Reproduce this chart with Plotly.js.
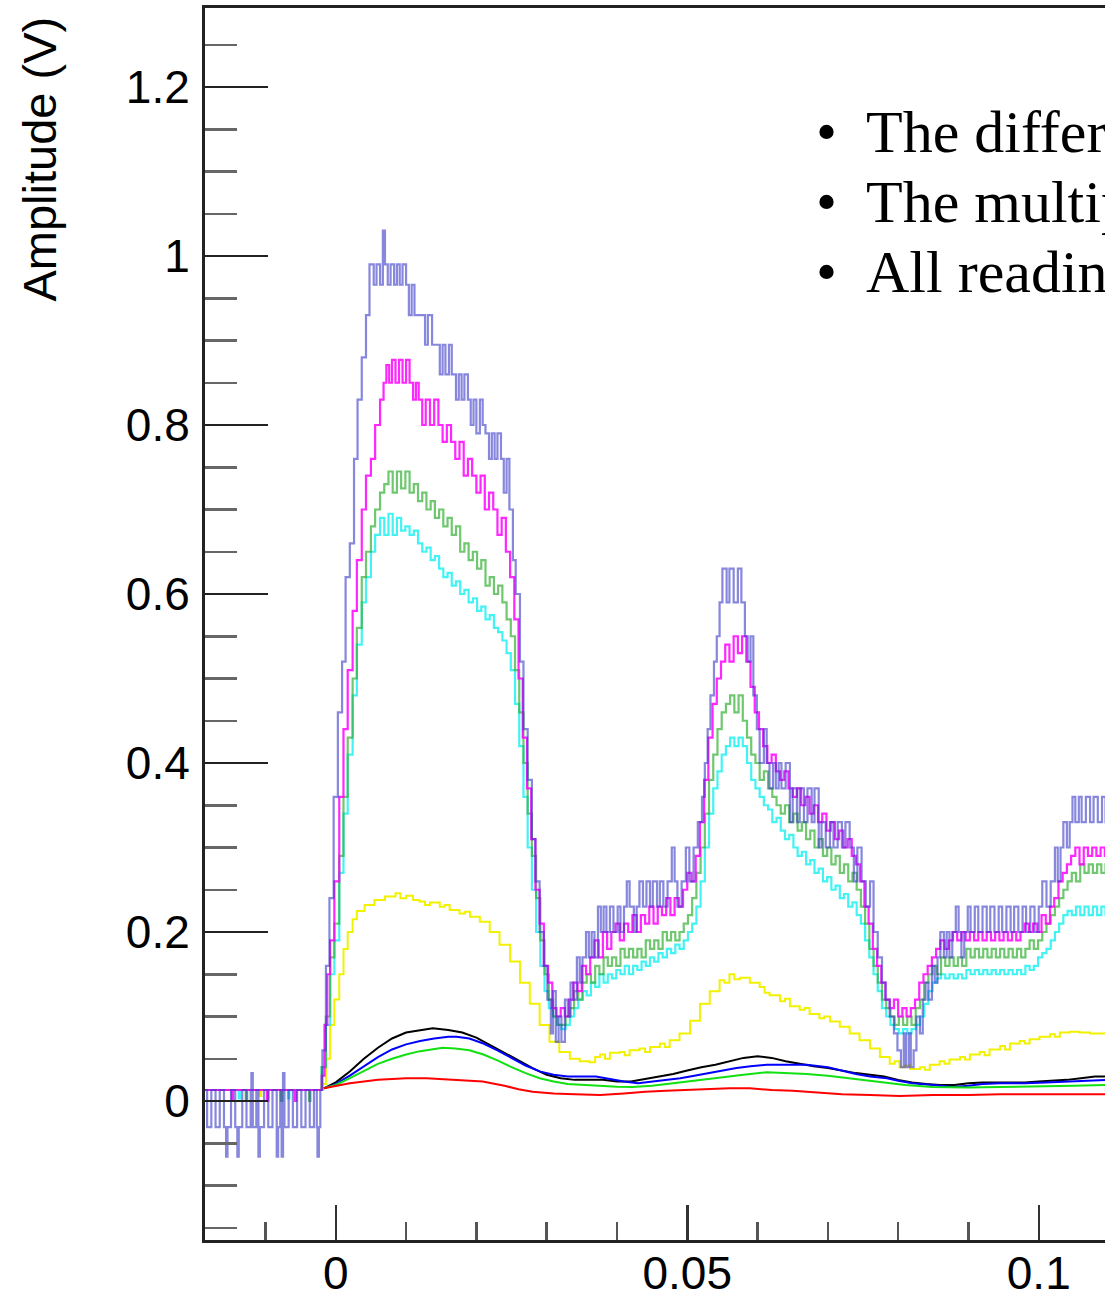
<!DOCTYPE html>
<html><head><meta charset="utf-8">
<script src="https://cdn.plot.ly/plotly-3.0.1.min.js"></script>
<style>html,body{margin:0;padding:0;overflow:hidden;background:#fff;width:1105px;height:1298px}#chart{width:1300px;height:1298px}</style>
</head><body><div id="chart"></div><script>
const xTickVals = [0, 0.05, 0.1];
const xTickText = ["0", "0.05", "0.1"];
const yTickVals = [0, 0.2, 0.4, 0.6, 0.8, 1, 1.2];
const yTickText = ["0", "0.2", "0.4", "0.6", "0.8", "1", "1.2"];
const yTitle = "Amplitude (V)";
const notes = ["The difference", "The multiplier", "All readings"];

// [time (s), amplitude (V)]
const violet = [[-0.0186,0.013],[-0.0183,-0.031],[-0.0177,0.013],[-0.0171,-0.031],[-0.0165,0.013],[-0.0159,-0.031],[-0.0156,-0.066],[-0.0154,-0.031],[-0.0149,0.013],[-0.0143,-0.031],[-0.0140,-0.066],[-0.0138,-0.031],[-0.0133,0.013],[-0.0127,-0.031],[-0.0121,0.013],[-0.0120,0.033],[-0.0118,-0.031],[-0.0113,0.013],[-0.0110,-0.066],[-0.0108,-0.031],[-0.0102,0.013],[-0.0096,-0.031],[-0.0090,0.013],[-0.0084,-0.066],[-0.0082,-0.031],[-0.0079,0.013],[-0.0077,-0.066],[-0.0075,0.033],[-0.0073,-0.031],[-0.0067,0.013],[-0.0061,-0.031],[-0.0055,0.013],[-0.0049,-0.031],[-0.0043,0.013],[-0.0037,-0.031],[-0.0031,0.013],[-0.0027,-0.031],[-0.0026,-0.066],[-0.0024,-0.031],[-0.0022,0.013],
[-0.0019,0.06],[-0.0014,0.16],[-0.0009,0.24],[-0.0003,0.36],[0.0003,0.46],[0.0009,0.52],[0.0014,0.62],[0.0020,0.66],[0.0026,0.76],[0.0031,0.83],[0.0037,0.88],[0.0043,0.93],[0.0048,0.99],[0.0054,0.966],[0.0058,0.99],[0.0063,0.966],[0.0067,1.03],[0.0070,0.99],[0.0074,0.966],[0.0078,0.99],[0.0083,0.966],[0.0087,0.99],[0.0091,0.966],[0.0095,0.99],[0.0100,0.966],[0.0104,0.93],[0.0108,0.966],[0.0112,0.93],[0.0127,0.895],[0.0131,0.93],[0.0137,0.895],[0.0148,0.86],[0.0152,0.895],[0.0156,0.86],[0.0161,0.895],[0.0165,0.86],[0.0171,0.83],[0.0175,0.86],[0.0179,0.83],[0.0183,0.86],[0.0188,0.83],[0.0192,0.80],[0.0196,0.83],[0.0200,0.79],[0.0205,0.83],[0.0209,0.80],[0.0213,0.79],[0.0218,0.76],[0.0222,0.79],[0.0226,0.76],[0.0230,0.79],[0.0235,0.76],[0.0239,0.72],[0.0243,0.76],[0.0247,0.70],[0.0252,0.64],[0.0256,0.60],[0.0262,0.52],[0.0267,0.44],[0.0273,0.38],[0.0279,0.31],[0.0284,0.26],[0.0290,0.20],[0.0296,0.16],[0.0301,0.12],[0.0306,0.08],[0.0309,0.13],[0.0313,0.07],[0.0317,0.10],[0.0321,0.07],[0.0326,0.12],[0.0330,0.10],[0.0334,0.14],[0.0338,0.12],[0.0343,0.17],[0.0347,0.14],[0.0351,0.17],[0.0356,0.20],[0.0360,0.17],[0.0364,0.20],[0.0368,0.17],[0.0373,0.23],[0.0377,0.20],[0.0381,0.23],[0.0385,0.20],[0.0390,0.23],[0.0395,0.20],[0.0401,0.23],[0.0405,0.20],[0.0410,0.23],[0.0414,0.26],[0.0418,0.23],[0.0424,0.20],[0.0428,0.23],[0.0432,0.26],[0.0437,0.23],[0.0442,0.26],[0.0447,0.23],[0.0451,0.26],[0.0457,0.23],[0.0461,0.26],[0.0466,0.23],[0.0472,0.26],[0.0478,0.30],[0.0482,0.26],[0.0486,0.23],[0.0492,0.26],[0.0498,0.30],[0.0503,0.26],[0.0509,0.30],[0.0515,0.33],[0.0521,0.36],[0.0525,0.40],[0.0529,0.44],[0.0533,0.48],[0.0538,0.52],[0.0542,0.55],[0.0546,0.59],[0.0550,0.63],[0.0556,0.59],[0.0560,0.63],[0.0566,0.59],[0.0572,0.63],[0.0577,0.59],[0.0582,0.55],[0.0586,0.52],[0.0590,0.55],[0.0594,0.48],[0.0599,0.44],[0.0603,0.40],[0.0609,0.44],[0.0613,0.40],[0.0617,0.37],[0.0622,0.40],[0.0626,0.37],[0.0630,0.40],[0.0634,0.37],[0.0640,0.40],[0.0646,0.33],[0.0650,0.37],[0.0656,0.33],[0.0660,0.37],[0.0666,0.33],[0.0671,0.37],[0.0677,0.33],[0.0681,0.37],[0.0687,0.30],[0.0691,0.33],[0.0697,0.30],[0.0703,0.33],[0.0708,0.30],[0.0714,0.33],[0.0720,0.30],[0.0725,0.33],[0.0731,0.30],[0.0737,0.26],[0.0742,0.30],[0.0748,0.26],[0.0754,0.23],[0.0760,0.26],[0.0765,0.20],[0.0771,0.17],[0.0777,0.14],[0.0782,0.12],[0.0788,0.10],[0.0794,0.08],[0.0799,0.06],[0.0804,0.04],[0.0808,0.08],[0.0811,0.04],[0.0815,0.08],[0.0818,0.04],[0.0822,0.06],[0.0826,0.10],[0.0831,0.08],[0.0835,0.12],[0.0839,0.14],[0.0843,0.12],[0.0848,0.16],[0.0852,0.14],[0.0856,0.17],[0.0860,0.20],[0.0865,0.17],[0.0869,0.20],[0.0873,0.17],[0.0877,0.20],[0.0882,0.23],[0.0886,0.20],[0.0890,0.17],[0.0894,0.20],[0.0899,0.23],[0.0903,0.20],[0.0909,0.23],[0.0914,0.20],[0.0920,0.23],[0.0926,0.20],[0.0931,0.23],[0.0937,0.20],[0.0943,0.23],[0.0948,0.20],[0.0954,0.23],[0.0960,0.20],[0.0965,0.23],[0.0971,0.20],[0.0977,0.23],[0.0982,0.20],[0.0988,0.23],[0.0994,0.20],[0.1000,0.23],[0.1005,0.26],[0.1011,0.23],[0.1017,0.26],[0.1023,0.30],[0.1027,0.26],[0.1031,0.30],[0.1035,0.33],[0.1040,0.30],[0.1044,0.33],[0.1048,0.36],[0.1052,0.33],[0.1057,0.36],[0.1061,0.33],[0.1067,0.36],[0.1073,0.33],[0.1078,0.36],[0.1084,0.33],[0.1090,0.36],[0.1095,0.33],[0.1101,0.33]];

const magenta = [[-0.0186,0.013],[-0.0150,0.013],[-0.0148,0.0],[-0.0146,0.013],[-0.0100,0.013],[-0.0098,0.0],[-0.0096,0.013],[-0.0060,0.013],[-0.0058,0.0],[-0.0056,0.013],[-0.0024,0.013],
[-0.0020,0.03],[-0.0016,0.09],[-0.0012,0.15],[-0.0008,0.19],[-0.0002,0.26],[0.0005,0.36],[0.0011,0.44],[0.0017,0.51],[0.0024,0.58],[0.0030,0.64],[0.0037,0.70],[0.0043,0.74],[0.0050,0.76],[0.0056,0.80],[0.0063,0.83],[0.0068,0.85],[0.0072,0.871],[0.0076,0.85],[0.0080,0.877],[0.0085,0.85],[0.0090,0.877],[0.0095,0.85],[0.0100,0.877],[0.0105,0.85],[0.0110,0.83],[0.0114,0.85],[0.0118,0.83],[0.0123,0.80],[0.0128,0.83],[0.0134,0.80],[0.0140,0.83],[0.0146,0.80],[0.0152,0.78],[0.0158,0.80],[0.0164,0.78],[0.0170,0.76],[0.0176,0.78],[0.0182,0.74],[0.0188,0.76],[0.0194,0.74],[0.0200,0.72],[0.0206,0.74],[0.0212,0.70],[0.0218,0.72],[0.0224,0.70],[0.0230,0.67],[0.0236,0.69],[0.0242,0.65],[0.0248,0.62],[0.0254,0.57],[0.0260,0.50],[0.0266,0.43],[0.0272,0.37],[0.0278,0.31],[0.0284,0.25],[0.0290,0.21],[0.0296,0.16],[0.0302,0.14],[0.0308,0.11],[0.0314,0.10],[0.0320,0.11],[0.0326,0.10],[0.0332,0.12],[0.0338,0.14],[0.0344,0.13],[0.0350,0.16],[0.0356,0.15],[0.0362,0.17],[0.0368,0.19],[0.0374,0.17],[0.0380,0.20],[0.0386,0.18],[0.0392,0.20],[0.0398,0.21],[0.0404,0.19],[0.0410,0.21],[0.0416,0.20],[0.0422,0.22],[0.0428,0.20],[0.0434,0.22],[0.0440,0.21],[0.0446,0.23],[0.0452,0.21],[0.0458,0.23],[0.0464,0.22],[0.0470,0.24],[0.0476,0.22],[0.0482,0.24],[0.0488,0.23],[0.0494,0.25],[0.0500,0.27],[0.0506,0.26],[0.0512,0.29],[0.0518,0.33],[0.0524,0.38],[0.0530,0.43],[0.0536,0.47],[0.0542,0.50],[0.0548,0.52],[0.0554,0.54],[0.0560,0.52],[0.0566,0.55],[0.0572,0.53],[0.0578,0.55],[0.0584,0.52],[0.0590,0.49],[0.0596,0.46],[0.0602,0.44],[0.0608,0.42],[0.0614,0.40],[0.0620,0.41],[0.0626,0.39],[0.0632,0.38],[0.0638,0.39],[0.0644,0.37],[0.0650,0.36],[0.0656,0.37],[0.0662,0.35],[0.0668,0.36],[0.0674,0.34],[0.0680,0.35],[0.0686,0.33],[0.0692,0.34],[0.0698,0.32],[0.0704,0.33],[0.0710,0.31],[0.0716,0.32],[0.0722,0.30],[0.0728,0.31],[0.0734,0.29],[0.0740,0.28],[0.0746,0.26],[0.0752,0.23],[0.0758,0.21],[0.0764,0.18],[0.0770,0.16],[0.0776,0.14],[0.0782,0.12],[0.0788,0.11],[0.0794,0.12],[0.0800,0.10],[0.0806,0.11],[0.0812,0.10],[0.0818,0.11],[0.0824,0.12],[0.0830,0.14],[0.0836,0.15],[0.0842,0.16],[0.0848,0.17],[0.0854,0.18],[0.0860,0.19],[0.0866,0.18],[0.0872,0.19],[0.0878,0.20],[0.0884,0.19],[0.0890,0.20],[0.0896,0.19],[0.0902,0.20],[0.0908,0.19],[0.0914,0.20],[0.0920,0.19],[0.0926,0.20],[0.0932,0.19],[0.0938,0.20],[0.0944,0.19],[0.0950,0.20],[0.0956,0.19],[0.0962,0.20],[0.0968,0.19],[0.0974,0.20],[0.0980,0.21],[0.0986,0.20],[0.0992,0.21],[0.0998,0.20],[0.1004,0.22],[0.1010,0.21],[0.1016,0.23],[0.1022,0.24],[0.1028,0.26],[0.1034,0.27],[0.1040,0.28],[0.1046,0.29],[0.1052,0.30],[0.1058,0.28],[0.1064,0.30],[0.1070,0.29],[0.1076,0.30],[0.1082,0.29],[0.1088,0.30],[0.1094,0.29],[0.1101,0.29]];

const greenDark = [[-0.0186,0.013],[-0.0130,0.013],[-0.0128,0.0],[-0.0126,0.013],[-0.0080,0.013],[-0.0078,0.0],[-0.0076,0.013],[-0.0040,0.013],[-0.0038,0.0],[-0.0036,0.013],[-0.0024,0.013],
[-0.0020,0.04],[-0.0014,0.10],[-0.0008,0.17],[-0.0002,0.21],[0.0005,0.29],[0.0011,0.36],[0.0017,0.43],[0.0024,0.50],[0.0030,0.56],[0.0037,0.62],[0.0043,0.65],[0.0050,0.68],[0.0056,0.70],[0.0063,0.72],[0.0069,0.73],[0.0075,0.745],[0.0081,0.72],[0.0087,0.745],[0.0093,0.725],[0.0099,0.745],[0.0105,0.72],[0.0111,0.73],[0.0117,0.71],[0.0123,0.72],[0.0129,0.70],[0.0135,0.71],[0.0141,0.69],[0.0147,0.70],[0.0153,0.68],[0.0159,0.69],[0.0165,0.67],[0.0171,0.68],[0.0177,0.65],[0.0183,0.66],[0.0189,0.64],[0.0195,0.65],[0.0201,0.63],[0.0207,0.64],[0.0213,0.61],[0.0219,0.62],[0.0225,0.60],[0.0231,0.61],[0.0237,0.59],[0.0243,0.57],[0.0249,0.55],[0.0255,0.51],[0.0261,0.46],[0.0267,0.40],[0.0273,0.34],[0.0279,0.29],[0.0285,0.24],[0.0291,0.19],[0.0297,0.15],[0.0303,0.12],[0.0309,0.10],[0.0315,0.09],[0.0321,0.09],[0.0327,0.10],[0.0333,0.11],[0.0339,0.13],[0.0345,0.12],[0.0351,0.14],[0.0357,0.15],[0.0363,0.14],[0.0369,0.16],[0.0375,0.15],[0.0381,0.17],[0.0387,0.16],[0.0393,0.17],[0.0399,0.16],[0.0405,0.18],[0.0411,0.17],[0.0417,0.18],[0.0423,0.17],[0.0429,0.18],[0.0435,0.17],[0.0441,0.19],[0.0447,0.18],[0.0453,0.19],[0.0459,0.18],[0.0465,0.20],[0.0471,0.19],[0.0477,0.20],[0.0483,0.19],[0.0489,0.20],[0.0495,0.21],[0.0501,0.22],[0.0507,0.24],[0.0513,0.27],[0.0519,0.30],[0.0525,0.34],[0.0531,0.38],[0.0537,0.41],[0.0543,0.44],[0.0549,0.46],[0.0555,0.47],[0.0561,0.48],[0.0567,0.46],[0.0573,0.48],[0.0579,0.45],[0.0585,0.43],[0.0591,0.41],[0.0597,0.40],[0.0603,0.38],[0.0609,0.39],[0.0615,0.37],[0.0621,0.36],[0.0627,0.35],[0.0633,0.34],[0.0639,0.35],[0.0645,0.33],[0.0651,0.34],[0.0657,0.32],[0.0663,0.33],[0.0669,0.31],[0.0675,0.32],[0.0681,0.30],[0.0687,0.31],[0.0693,0.29],[0.0699,0.30],[0.0705,0.28],[0.0711,0.29],[0.0717,0.27],[0.0723,0.28],[0.0729,0.26],[0.0735,0.27],[0.0741,0.25],[0.0747,0.23],[0.0753,0.21],[0.0759,0.18],[0.0765,0.16],[0.0771,0.14],[0.0777,0.12],[0.0783,0.11],[0.0789,0.10],[0.0795,0.09],[0.0801,0.10],[0.0807,0.09],[0.0813,0.10],[0.0819,0.09],[0.0825,0.11],[0.0831,0.12],[0.0837,0.14],[0.0843,0.15],[0.0849,0.16],[0.0855,0.15],[0.0861,0.17],[0.0867,0.16],[0.0873,0.17],[0.0879,0.16],[0.0885,0.17],[0.0891,0.16],[0.0897,0.18],[0.0903,0.17],[0.0909,0.18],[0.0915,0.17],[0.0921,0.18],[0.0927,0.17],[0.0933,0.18],[0.0939,0.17],[0.0945,0.18],[0.0951,0.17],[0.0957,0.18],[0.0963,0.17],[0.0969,0.18],[0.0975,0.17],[0.0981,0.18],[0.0987,0.19],[0.0993,0.18],[0.0999,0.19],[0.1005,0.20],[0.1011,0.21],[0.1017,0.22],[0.1023,0.23],[0.1029,0.24],[0.1035,0.25],[0.1041,0.26],[0.1047,0.27],[0.1053,0.26],[0.1059,0.28],[0.1065,0.27],[0.1071,0.28],[0.1077,0.27],[0.1083,0.28],[0.1089,0.27],[0.1095,0.28],[0.1101,0.27]];

const cyan = [[-0.0186,0.013],[-0.0140,0.013],[-0.0138,0.003],[-0.0136,0.013],[-0.0070,0.013],[-0.0068,0.003],[-0.0066,0.013],[-0.0024,0.013],
[-0.0020,0.04],[-0.0014,0.09],[-0.0008,0.15],[-0.0002,0.19],[0.0005,0.27],[0.0011,0.34],[0.0017,0.41],[0.0024,0.48],[0.0030,0.54],[0.0037,0.59],[0.0043,0.62],[0.0050,0.65],[0.0056,0.67],[0.0063,0.69],[0.0069,0.67],[0.0075,0.695],[0.0081,0.67],[0.0087,0.69],[0.0093,0.675],[0.0099,0.68],[0.0105,0.67],[0.0111,0.675],[0.0117,0.66],[0.0123,0.65],[0.0129,0.655],[0.0135,0.64],[0.0141,0.645],[0.0147,0.63],[0.0153,0.62],[0.0159,0.625],[0.0165,0.61],[0.0171,0.615],[0.0177,0.60],[0.0183,0.605],[0.0189,0.59],[0.0195,0.595],[0.0201,0.58],[0.0207,0.585],[0.0213,0.57],[0.0219,0.575],[0.0225,0.56],[0.0231,0.555],[0.0237,0.545],[0.0243,0.53],[0.0249,0.51],[0.0255,0.47],[0.0261,0.42],[0.0267,0.36],[0.0273,0.30],[0.0279,0.25],[0.0285,0.20],[0.0291,0.16],[0.0297,0.13],[0.0303,0.11],[0.0309,0.10],[0.0315,0.09],[0.0321,0.085],[0.0327,0.09],[0.0333,0.10],[0.0339,0.11],[0.0345,0.12],[0.0351,0.13],[0.0357,0.125],[0.0363,0.14],[0.0369,0.135],[0.0375,0.15],[0.0381,0.14],[0.0387,0.15],[0.0393,0.145],[0.0399,0.155],[0.0405,0.15],[0.0411,0.16],[0.0417,0.15],[0.0423,0.16],[0.0429,0.155],[0.0435,0.165],[0.0441,0.16],[0.0447,0.17],[0.0453,0.165],[0.0459,0.175],[0.0465,0.17],[0.0471,0.18],[0.0477,0.175],[0.0483,0.185],[0.0489,0.18],[0.0495,0.19],[0.0501,0.20],[0.0507,0.21],[0.0513,0.23],[0.0519,0.26],[0.0525,0.30],[0.0531,0.34],[0.0537,0.37],[0.0543,0.39],[0.0549,0.41],[0.0555,0.42],[0.0561,0.43],[0.0567,0.42],[0.0573,0.43],[0.0579,0.42],[0.0585,0.40],[0.0591,0.38],[0.0597,0.37],[0.0603,0.36],[0.0609,0.35],[0.0615,0.345],[0.0621,0.33],[0.0627,0.335],[0.0633,0.32],[0.0639,0.31],[0.0645,0.315],[0.0651,0.30],[0.0657,0.29],[0.0663,0.295],[0.0669,0.28],[0.0675,0.285],[0.0681,0.27],[0.0687,0.275],[0.0693,0.26],[0.0699,0.265],[0.0705,0.25],[0.0711,0.255],[0.0717,0.24],[0.0723,0.245],[0.0729,0.23],[0.0735,0.235],[0.0741,0.22],[0.0747,0.21],[0.0753,0.19],[0.0759,0.17],[0.0765,0.15],[0.0771,0.13],[0.0777,0.11],[0.0783,0.10],[0.0789,0.09],[0.0795,0.085],[0.0801,0.08],[0.0807,0.085],[0.0813,0.08],[0.0819,0.085],[0.0825,0.09],[0.0831,0.10],[0.0837,0.115],[0.0843,0.13],[0.0849,0.14],[0.0855,0.145],[0.0861,0.15],[0.0867,0.145],[0.0873,0.15],[0.0879,0.145],[0.0885,0.15],[0.0891,0.145],[0.0897,0.155],[0.0903,0.15],[0.0909,0.155],[0.0915,0.15],[0.0921,0.155],[0.0927,0.15],[0.0933,0.155],[0.0939,0.15],[0.0945,0.155],[0.0951,0.15],[0.0957,0.155],[0.0963,0.15],[0.0969,0.155],[0.0975,0.15],[0.0981,0.16],[0.0987,0.155],[0.0993,0.16],[0.0999,0.17],[0.1005,0.175],[0.1011,0.18],[0.1017,0.19],[0.1023,0.20],[0.1029,0.21],[0.1035,0.22],[0.1041,0.225],[0.1047,0.22],[0.1053,0.23],[0.1059,0.22],[0.1065,0.23],[0.1071,0.22],[0.1077,0.23],[0.1083,0.22],[0.1089,0.23],[0.1095,0.22],[0.1101,0.225]];

const yellow = [[-0.0186,0.013],[-0.0110,0.013],[-0.0108,0.006],[-0.0106,0.013],[-0.0024,0.013],
[-0.0020,0.02],[-0.0014,0.05],[-0.0008,0.09],[-0.0002,0.12],[0.0005,0.15],[0.0011,0.18],[0.0017,0.20],[0.0024,0.215],[0.0030,0.225],[0.0041,0.232],[0.0055,0.238],[0.0070,0.242],[0.0085,0.246],[0.0092,0.240],[0.0100,0.243],[0.0110,0.238],[0.0119,0.236],[0.0127,0.232],[0.0134,0.235],[0.0148,0.230],[0.0155,0.232],[0.0162,0.226],[0.0176,0.222],[0.0184,0.224],[0.0191,0.218],[0.0205,0.212],[0.0219,0.200],[0.0233,0.185],[0.0248,0.165],[0.0262,0.140],[0.0276,0.115],[0.0290,0.090],[0.0304,0.070],[0.0318,0.058],[0.0333,0.050],[0.0347,0.047],[0.0361,0.046],[0.0369,0.052],[0.0376,0.055],[0.0383,0.050],[0.0390,0.057],[0.0404,0.058],[0.0411,0.054],[0.0418,0.060],[0.0432,0.062],[0.0440,0.058],[0.0447,0.064],[0.0461,0.068],[0.0468,0.064],[0.0475,0.072],[0.0489,0.080],[0.0504,0.095],[0.0518,0.115],[0.0532,0.130],[0.0546,0.143],[0.0553,0.140],[0.0560,0.150],[0.0567,0.144],[0.0575,0.146],[0.0589,0.140],[0.0603,0.135],[0.0610,0.128],[0.0617,0.125],[0.0632,0.118],[0.0639,0.121],[0.0646,0.112],[0.0660,0.108],[0.0667,0.110],[0.0674,0.103],[0.0688,0.098],[0.0695,0.100],[0.0703,0.094],[0.0717,0.088],[0.0731,0.080],[0.0745,0.072],[0.0760,0.062],[0.0774,0.052],[0.0788,0.044],[0.0795,0.047],[0.0802,0.040],[0.0810,0.042],[0.0817,0.038],[0.0831,0.040],[0.0838,0.037],[0.0845,0.043],[0.0859,0.047],[0.0866,0.044],[0.0873,0.049],[0.0888,0.052],[0.0895,0.049],[0.0902,0.055],[0.0916,0.058],[0.0923,0.054],[0.0930,0.061],[0.0945,0.065],[0.0952,0.061],[0.0959,0.068],[0.0973,0.071],[0.0980,0.068],[0.0987,0.073],[0.1001,0.076],[0.1016,0.079],[0.1023,0.076],[0.1030,0.081],[0.1044,0.082],[0.1058,0.081],[0.1073,0.080],[0.1087,0.080],[0.1101,0.079]];

const black = [[-0.0017,0.015],[0.0000,0.022],[0.0020,0.035],[0.0040,0.050],[0.0060,0.063],[0.0080,0.074],[0.0100,0.081],[0.0120,0.084],[0.0138,0.086],[0.0160,0.084],[0.0180,0.081],[0.0200,0.075],[0.0220,0.066],[0.0240,0.057],[0.0260,0.047],[0.0280,0.039],[0.0300,0.031],[0.0320,0.027],[0.0340,0.025],[0.0360,0.025],[0.0380,0.025],[0.0400,0.023],[0.0420,0.023],[0.0440,0.026],[0.0460,0.029],[0.0480,0.032],[0.0500,0.036],[0.0520,0.040],[0.0540,0.043],[0.0560,0.047],[0.0580,0.051],[0.0600,0.053],[0.0620,0.051],[0.0640,0.047],[0.0660,0.044],[0.0680,0.041],[0.0700,0.039],[0.0720,0.036],[0.0740,0.033],[0.0760,0.031],[0.0780,0.029],[0.0800,0.025],[0.0820,0.022],[0.0840,0.020],[0.0860,0.019],[0.0880,0.019],[0.0900,0.021],[0.0920,0.022],[0.0940,0.022],[0.0960,0.022],[0.0980,0.022],[0.1000,0.023],[0.1020,0.024],[0.1040,0.025],[0.1060,0.027],[0.1080,0.029],[0.1101,0.029]];

const blue = [[-0.0017,0.015],[0.0000,0.020],[0.0020,0.030],[0.0040,0.041],[0.0060,0.052],[0.0080,0.061],[0.0100,0.067],[0.0120,0.071],[0.0140,0.074],[0.0160,0.076],[0.0172,0.076],[0.0190,0.074],[0.0210,0.068],[0.0230,0.060],[0.0250,0.051],[0.0270,0.042],[0.0290,0.035],[0.0310,0.031],[0.0330,0.029],[0.0350,0.029],[0.0370,0.029],[0.0390,0.026],[0.0410,0.023],[0.0430,0.021],[0.0450,0.023],[0.0470,0.025],[0.0490,0.027],[0.0510,0.030],[0.0530,0.033],[0.0550,0.036],[0.0570,0.039],[0.0590,0.041],[0.0613,0.043],[0.0640,0.043],[0.0670,0.043],[0.0700,0.040],[0.0720,0.036],[0.0740,0.032],[0.0760,0.029],[0.0784,0.027],[0.0800,0.024],[0.0820,0.021],[0.0849,0.019],[0.0878,0.0165],[0.0900,0.018],[0.0920,0.020],[0.0945,0.021],[0.0980,0.021],[0.1010,0.022],[0.1040,0.023],[0.1070,0.024],[0.1101,0.025]];

const green = [[-0.0017,0.015],[0.0000,0.019],[0.0020,0.027],[0.0040,0.036],[0.0060,0.044],[0.0080,0.050],[0.0100,0.055],[0.0120,0.059],[0.0140,0.062],[0.0152,0.063],[0.0170,0.062],[0.0190,0.060],[0.0210,0.055],[0.0230,0.048],[0.0250,0.040],[0.0270,0.033],[0.0290,0.027],[0.0310,0.023],[0.0330,0.020],[0.0350,0.019],[0.0376,0.018],[0.0400,0.017],[0.0422,0.0165],[0.0450,0.018],[0.0480,0.021],[0.0518,0.025],[0.0550,0.028],[0.0580,0.031],[0.0613,0.034],[0.0640,0.033],[0.0670,0.032],[0.0700,0.030],[0.0730,0.027],[0.0760,0.024],[0.0784,0.021],[0.0810,0.019],[0.0849,0.0165],[0.0900,0.016],[0.0945,0.0165],[0.1000,0.017],[0.1050,0.018],[0.1101,0.019]];

const red = [[-0.0017,0.015],[0.0000,0.018],[0.0020,0.021],[0.0040,0.023],[0.0060,0.025],[0.0080,0.026],[0.0100,0.027],[0.0129,0.027],[0.0150,0.026],[0.0180,0.025],[0.0209,0.023],[0.0240,0.018],[0.0260,0.014],[0.0280,0.011],[0.0310,0.009],[0.0340,0.008],[0.0376,0.007],[0.0410,0.009],[0.0440,0.011],[0.0470,0.012],[0.0500,0.013],[0.0530,0.014],[0.0560,0.015],[0.0589,0.015],[0.0620,0.013],[0.0650,0.012],[0.0684,0.010],[0.0720,0.008],[0.0760,0.007],[0.0802,0.006],[0.0850,0.007],[0.0900,0.007],[0.0945,0.008],[0.1000,0.008],[0.1050,0.008],[0.1101,0.008]];

function trace(data, color, width, shape) {
  return {
    type: 'scatter', mode: 'lines',
    x: data.map(p => p[0]), y: data.map(p => p[1]),
    line: {color: color, width: width, shape: shape},
    hoverinfo: 'skip', showlegend: false
  };
}

const traces = [
  trace(yellow, '#f2f200', 2, 'hv'),
  trace(cyan, 'rgba(20,240,240,0.8)', 2.2, 'hv'),
  trace(greenDark, 'rgba(50,175,50,0.7)', 2.2, 'hv'),
  trace(magenta, 'rgba(255,0,255,0.85)', 2.2, 'hv'),
  trace(violet, 'rgba(55,55,200,0.6)', 2.2, 'hv'),
  trace(black, '#000000', 2, 'linear'),
  trace(blue, '#0000ff', 2, 'linear'),
  trace(green, '#11e011', 2, 'linear'),
  trace(red, '#ff0000', 2, 'linear')
];

const tickFont = {family: 'Liberation Sans, Arial, sans-serif', size: 46, color: '#000'};
const noteFont = {family: 'Liberation Serif, Times New Roman, serif', size: 60, color: '#000'};

const annotations = [
  {xref: 'paper', yref: 'paper', x: -0.158, y: 0.995, xanchor: 'center', yanchor: 'top',
   text: yTitle, textangle: -90, showarrow: false,
   font: {family: 'Liberation Sans, Arial, sans-serif', size: 47, color: '#000'}}
];
const noteY = [0.8994, 0.8426, 0.7858];
notes.forEach((t, i) => {
  annotations.push({xref: 'paper', yref: 'paper', x: 0.5943, y: noteY[i], xanchor: 'center', yanchor: 'middle',
    text: '•', showarrow: false, font: noteFont});
  annotations.push({xref: 'paper', yref: 'paper', x: 0.6306, y: noteY[i], xanchor: 'left', yanchor: 'middle',
    text: t, showarrow: false, font: noteFont});
});

const layout = {
  width: 1300, height: 1298,
  margin: {l: 205, r: 50, t: 8, b: 58},
  paper_bgcolor: '#ffffff', plot_bgcolor: '#ffffff',
  showlegend: false, hovermode: false,
  xaxis: {
    range: [-0.0186, 0.13005],
    tickmode: 'array', tickvals: xTickVals, ticktext: xTickText,
    ticks: 'inside', ticklen: 35, tickwidth: 2.5, tickcolor: '#333',
    minor: {dtick: 0.01, tick0: 0, ticks: 'inside', ticklen: 18, tickwidth: 2.5, tickcolor: '#555', showgrid: false},
    showline: true, linewidth: 3, linecolor: '#222', mirror: true,
    showgrid: false, zeroline: false,
    tickfont: tickFont, ticklabelstandoff: -9
  },
  yaxis: {
    range: [-0.1645, 1.2935],
    tickmode: 'array', tickvals: yTickVals, ticktext: yTickText,
    ticks: 'inside', ticklen: 63, tickwidth: 2.5, tickcolor: '#222',
    minor: {dtick: 0.05, tick0: 0, ticks: 'inside', ticklen: 32, tickwidth: 2.5, tickcolor: '#666', showgrid: false},
    showline: true, linewidth: 3, linecolor: '#222', mirror: true,
    showgrid: false, zeroline: false,
    tickfont: tickFont, ticklabelstandoff: 3
  },
  annotations: annotations
};

Plotly.newPlot('chart', traces, layout, {staticPlot: true, displayModeBar: false});
</script></body></html>
